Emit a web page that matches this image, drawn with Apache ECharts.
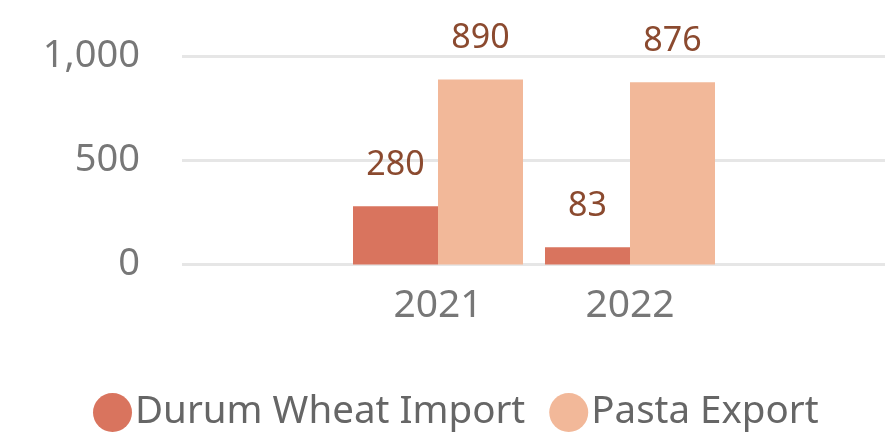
<!DOCTYPE html>
<html>
<head>
<meta charset="utf-8">
<script src="https://cdn.jsdelivr.net/npm/echarts@6/dist/echarts.min.js"></script>
<style>
  html, body { margin: 0; padding: 0; background: #fff; }
  #chart { width: 885px; height: 438px; }
</style>
</head>
<body>
<div id="chart"></div>
<script>
// data
var years = ['2021', '2022'];
var durumImport = [280, 83];
var pastaExport = [890, 876];
var seriesNames = ['Durum Wheat Import', 'Pasta Export'];
var yTicks = { min: 0, max: 1000, step: 500 };

var myChart = echarts.init(document.getElementById('chart'));

var labelStyle = {
    show: true,
    position: 'top',
    distance: 24,
    color: '#8B4A2F',
    fontSize: 34,
    fontFamily: 'Noto Sans'
};

var option = {
    animation: false,
    textStyle: { fontFamily: 'Noto Sans' },
    // grid 0 只画网格线和y轴, grid 1 放柱子
    grid: [
        { left: 182, right: 0, top: 56.5, bottom: 173.5 },
        { left: 342, right: 159, top: 56.5, bottom: 173.5 }
    ],
    legend: {
        left: 88,
        top: 388,
        itemWidth: 39,
        itemHeight: 39,
        itemGap: 24,
        icon: 'circle',
        textStyle: { color: '#666', fontSize: 38.5, padding: [0, 0, 0, -2] },
        data: seriesNames
    },
    xAxis: [
        { gridIndex: 0, type: 'value', show: false, min: 0, max: 1 },
        {
            gridIndex: 1,
            type: 'category',
            data: years,
            axisLine: { show: false },
            axisTick: { show: false },
            axisLabel: { color: '#777', fontSize: 39, margin: 22 }
        }
    ],
    yAxis: [
        {
            gridIndex: 0,
            type: 'value',
            min: yTicks.min,
            max: yTicks.max,
            interval: yTicks.step,
            axisLine: { show: false },
            axisTick: { show: false },
            axisLabel: {
                color: '#777',
                fontSize: 38,
                margin: 42,
                formatter: function (v) { return v.toLocaleString('en-US'); }
            },
            splitLine: { lineStyle: { color: '#e6e6e6', width: 3 } }
        },
        {
            gridIndex: 1,
            type: 'value',
            min: yTicks.min,
            max: yTicks.max,
            interval: yTicks.step,
            show: false,
            splitLine: { show: false }
        }
    ],
    series: [
        {
            name: seriesNames[0],
            type: 'bar',
            xAxisIndex: 1,
            yAxisIndex: 1,
            data: durumImport,
            barWidth: 85,
            barGap: '0%',
            itemStyle: { color: '#D9745E' },
            label: labelStyle
        },
        {
            name: seriesNames[1],
            type: 'bar',
            xAxisIndex: 1,
            yAxisIndex: 1,
            data: pastaExport,
            barWidth: 85,
            barGap: '0%',
            itemStyle: { color: '#F2B899' },
            label: labelStyle
        }
    ]
};

myChart.setOption(option);
</script>
</body>
</html>
